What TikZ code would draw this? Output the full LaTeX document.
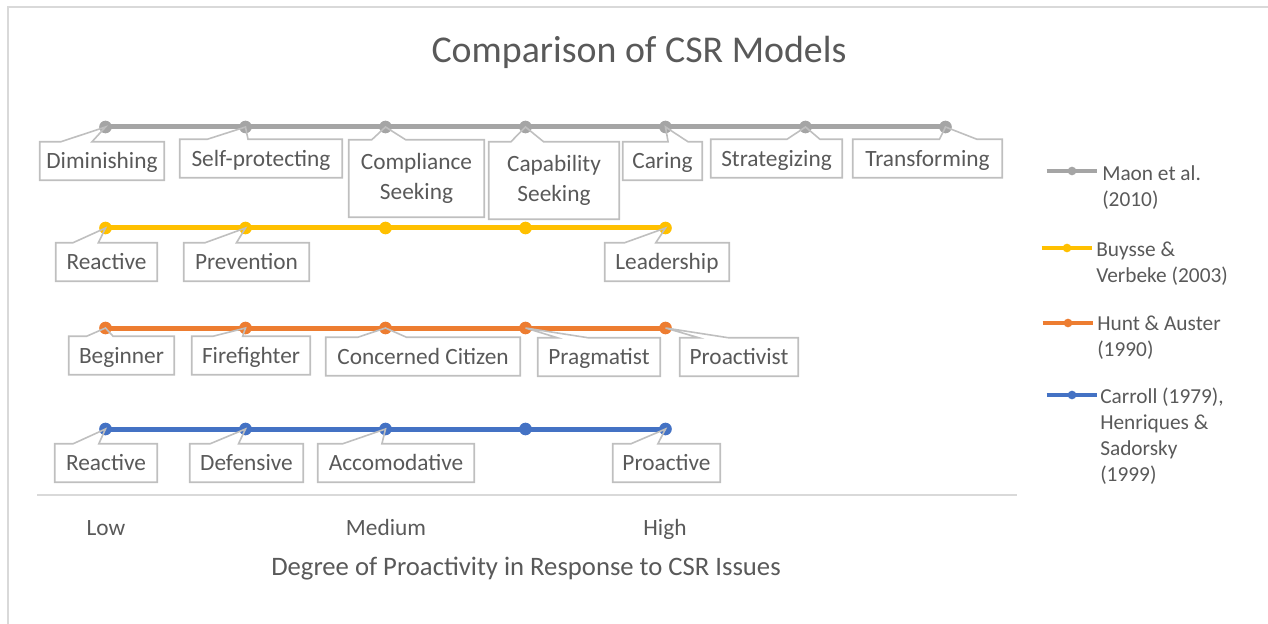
\documentclass[tikz,border=0pt]{standalone}
\usepackage{fontspec}
\setmainfont{Carlito}
\usepackage{tikz}
\usetikzlibrary{calc, backgrounds}
\definecolor{maon}{HTML}{A5A5A5}
\definecolor{buysse}{HTML}{FFC000}
\definecolor{hunt}{HTML}{ED7D31}
\definecolor{carroll}{HTML}{4472C4}
\definecolor{ink}{HTML}{595959}
\definecolor{boxline}{HTML}{BFBFBF}
\definecolor{frame}{HTML}{D9D9D9}

% label outline with its wedge running up to the data point
\newcommand{\wedgebox}[3][0.17]{%
  \draw[outline] (#2.north west)
    -- ($(#2.north west)!#1!(#2.north east)$) -- (#3.center)
    -- ($(#2.north west)!#1+0.25!(#2.north east)$)
    -- (#2.north east) -- (#2.south east) -- (#2.south west) -- cycle;}

\begin{document}
\begin{tikzpicture}[x=0.75pt, y=-0.75pt,
  lblbase/.style={font=\fontsize{17.5}{22}\selectfont, text=ink, align=center, inner sep=0pt},
  lbl/.style={lblbase, minimum height=28.5pt, text height=11.3pt, text depth=0pt},
  tall/.style={lblbase, minimum height=57.75pt},
  bw/.style={minimum width=#1*0.75pt},
  outline/.style={draw=boxline, line width=1.2pt},
  dot/.style={circle, inner sep=0pt, minimum size=9.5pt},
  keydot/.style={circle, inner sep=0pt, minimum size=6.5pt},
  series/.style={line width=3.75pt},
  keyline/.style={line width=2.6pt},
  legtext/.style={font=\fontsize{16}{19.5}\selectfont, text=ink, align=left, anchor=west, inner sep=0pt},
  scalelbl/.style={font=\fontsize{17.5}{21}\selectfont, text=ink, text height=11.3pt, text depth=0pt}
]
  \useasboundingbox (0,0) rectangle (1268,624);
  \draw[frame, line width=1.3pt] (1268,7) -- (8,7) -- (8,624);

  \node[font=\fontsize{28.4}{34}\selectfont, text=ink] (title) at (639,52) {Comparison of CSR Models};

  % data points
  \foreach \i in {1,...,7}
    \node[dot, fill=maon] (m\i) at ({105.5+140*(\i-1)},127) {};
  \foreach \i in {1,...,5} {
    \node[dot, fill=buysse] (b\i) at ({105.5+140*(\i-1)},228) {};
    \node[dot, fill=hunt] (h\i) at ({105.5+140*(\i-1)},328) {};
    \node[dot, fill=carroll] (c\i) at ({105.5+140*(\i-1)},429) {};
  }
  \begin{scope}[on background layer]
    \draw[series, maon] (m1.center) -- (m7.center);
    \draw[series, buysse] (b1.center) -- (b5.center);
    \draw[series, hunt] (h1.center) -- (h5.center);
    \draw[series, carroll] (c1.center) -- (c5.center);
  \end{scope}

  % Maon et al.
  \node[lbl, bw=124] (diminishing) at (102,161) {Diminishing};
  \node[lbl, bw=162] (selfprot) at (261,158.5) {Self-protecting};
  \node[tall, bw=135] (compliance) at (416.5,178.5) {Compliance\\Seeking};
  \node[tall, bw=130] (capability) at (554,180.5) {Capability\\Seeking};
  \node[lbl, bw=79] (caring) at (662.5,161) {Caring};
  \node[lbl, bw=131] (strategizing) at (776.5,158.5) {Strategizing};
  \node[lbl, bw=149] (transforming) at (927.5,158.5) {Transforming};
  \wedgebox{diminishing}{m1}
  \wedgebox{selfprot}{m2}
  \wedgebox{compliance}{m3}
  \wedgebox{capability}{m4}
  \wedgebox[0.57]{caring}{m5}
  \wedgebox[0.58]{strategizing}{m6}
  \wedgebox[0.58]{transforming}{m7}

  % Buysse & Verbeke
  \node[lbl, bw=101] (reactB) at (106.5,262) {Reactive};
  \node[lbl, bw=125] (prevention) at (246.5,262) {Prevention};
  \node[lbl, bw=124] (leadership) at (667,262) {Leadership};
  \wedgebox{reactB}{b1}
  \wedgebox{prevention}{b2}
  \wedgebox[0.16]{leadership}{b5}

  % Hunt & Auster
  \node[lbl, bw=105] (beginner) at (121.5,355.5) {Beginner};
  \node[lbl, bw=118] (firefighter) at (251,355.5) {Firefighter};
  \node[lbl, bw=194] (concerned) at (423,356.5) {Concerned Citizen};
  \node[lbl, bw=122] (pragmatist) at (599,357) {Pragmatist};
  \node[lbl, bw=118] (proactivist) at (739,357) {Proactivist};
  \wedgebox{beginner}{h1}
  \wedgebox[0.18]{firefighter}{h2}
  \wedgebox[0.165]{concerned}{h3}
  \wedgebox[0.16]{pragmatist}{h4}
  \wedgebox[0.16]{proactivist}{h5}

  % Carroll, Henriques & Sadorsky
  \node[lbl, bw=102] (reactC) at (106,463) {Reactive};
  \node[lbl, bw=113] (defensive) at (246.5,463) {Defensive};
  \node[lbl, bw=156] (accomodative) at (396,463) {Accomodative};
  \node[lbl, bw=107] (proactive) at (666.5,463) {Proactive};
  \wedgebox[0.18]{reactC}{c1}
  \wedgebox[0.18]{defensive}{c2}
  \wedgebox[0.16]{accomodative}{c3}
  \wedgebox{proactive}{c5}

  % axis
  \draw[frame, line width=1.5pt] (37,495) -- (1017,495);
  \node[scalelbl] (low) at (106,528) {Low};
  \node[scalelbl] (medium) at (386,528) {Medium};
  \node[scalelbl] (high) at (665,528) {High};
  \node[font=\fontsize{20}{24}\selectfont, text=ink] (axistitle) at (526,569)
    {Degree of Proactivity in Response to CSR Issues};

  % legend
  \node[keydot, fill=maon] (km) at (1072,171) {};
  \node[keydot, fill=buysse] (kb) at (1067,248) {};
  \node[keydot, fill=hunt] (kh) at (1068,323) {};
  \node[keydot, fill=carroll] (kc) at (1072,395) {};
  \begin{scope}[on background layer]
    \draw[keyline, maon] ([xshift=-19pt]km.center) -- ([xshift=19pt]km.center);
    \draw[keyline, buysse] ([xshift=-19pt]kb.center) -- ([xshift=19pt]kb.center);
    \draw[keyline, hunt] ([xshift=-19pt]kh.center) -- ([xshift=19pt]kh.center);
    \draw[keyline, carroll] ([xshift=-19pt]kc.center) -- ([xshift=19pt]kc.center);
  \end{scope}
  \node[legtext] (maonkey) at (1102,188) {Maon et al.\\(2010)};
  \node[legtext] (buyssekey) at (1096,264) {Buysse \&\\Verbeke (2003)};
  \node[legtext] (huntkey) at (1097,338) {Hunt \& Auster\\(1990)};
  \node[legtext] (carrollkey) at (1100,436.5) {Carroll (1979),\\Henriques \&\\Sadorsky\\(1999)};
\end{tikzpicture}
\end{document}
